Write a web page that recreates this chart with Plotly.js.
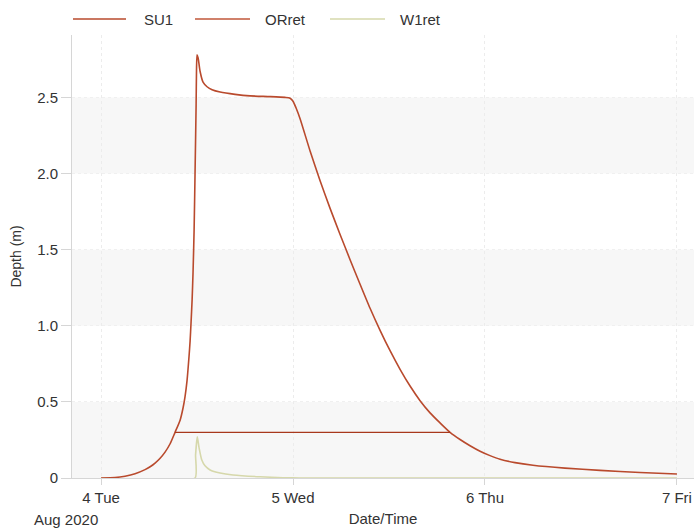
<!DOCTYPE html>
<html>
<head>
<meta charset="utf-8">
<script src="https://cdn.plot.ly/plotly-3.0.1.min.js"></script>
<style>html,body{margin:0;padding:0;background:#fff;}#chart{width:694px;height:529px;}</style>
</head>
<body>
<div id="chart"></div>
<script>
// SU1 depth (m)
const su1Time = [
  "2020-08-04 00:00","2020-08-04 01:45","2020-08-04 03:00","2020-08-04 04:15","2020-08-04 05:30",
  "2020-08-04 06:08","2020-08-04 06:45","2020-08-04 07:23","2020-08-04 08:00","2020-08-04 08:38",
  "2020-08-04 09:15","2020-08-04 09:53","2020-08-04 10:15","2020-08-04 10:30","2020-08-04 10:45",
  "2020-08-04 11:00","2020-08-04 11:08","2020-08-04 11:15","2020-08-04 11:23","2020-08-04 11:30",
  "2020-08-04 11:38","2020-08-04 11:45","2020-08-04 11:53","2020-08-04 11:56","2020-08-04 12:00",
  "2020-08-04 12:08","2020-08-04 12:23","2020-08-04 12:45","2020-08-04 13:15","2020-08-04 13:53",
  "2020-08-04 14:53","2020-08-04 16:45","2020-08-04 18:38","2020-08-04 21:08","2020-08-04 23:00",
  "2020-08-04 23:38","2020-08-05 00:00","2020-08-05 00:23","2020-08-05 00:53","2020-08-05 02:08",
  "2020-08-05 03:23","2020-08-05 04:38","2020-08-05 05:53","2020-08-05 07:08","2020-08-05 08:23",
  "2020-08-05 09:38","2020-08-05 10:53","2020-08-05 12:08","2020-08-05 13:23","2020-08-05 14:38",
  "2020-08-05 15:53","2020-08-05 17:08","2020-08-05 18:23","2020-08-05 19:38","2020-08-05 20:53",
  "2020-08-05 22:08","2020-08-05 23:23","2020-08-06 00:38","2020-08-06 01:53","2020-08-06 03:45",
  "2020-08-06 06:00","2020-08-06 10:00","2020-08-06 14:23","2020-08-06 19:23","2020-08-07 00:00"
];
const su1Depth = [
  0, 0.003, 0.012, 0.028, 0.055,
  0.074, 0.098, 0.13, 0.17, 0.225,
  0.30, 0.38, 0.46, 0.535, 0.64,
  0.80, 0.90, 1.02, 1.17, 1.35,
  1.63, 2.0, 2.45, 2.68, 2.78,
  2.76, 2.67, 2.60, 2.57, 2.55,
  2.535, 2.52, 2.51, 2.505, 2.50,
  2.495, 2.475, 2.43, 2.36, 2.148,
  1.952, 1.771, 1.600, 1.434, 1.273,
  1.115, 0.970, 0.836, 0.714, 0.604,
  0.508, 0.428, 0.362, 0.300, 0.253,
  0.212, 0.176, 0.147, 0.123, 0.101,
  0.084, 0.065, 0.050, 0.036, 0.026
];
// ORret depth (m)
const orTime = ["2020-08-04 09:15","2020-08-05 19:38"];
const orDepth = [0.30, 0.30];
// W1ret depth (m)
const w1Time = [
  "2020-08-04 00:00","2020-08-04 11:45","2020-08-04 11:49","2020-08-04 12:02","2020-08-04 12:15",
  "2020-08-04 12:35","2020-08-04 13:00","2020-08-04 13:38","2020-08-04 14:53","2020-08-04 16:30",
  "2020-08-04 19:53","2020-08-04 22:45","2020-08-05 00:53","2020-08-07 00:00"
];
const w1Depth = [0, 0, 0.15, 0.27, 0.2, 0.12, 0.08, 0.053, 0.033, 0.02, 0.008, 0.002, 0, 0];

const seriesNames = ["SU1","ORret","W1ret"];
const xTickVals = ["2020-08-04","2020-08-05","2020-08-06","2020-08-07"];
const xTickText = ["4 Tue","5 Wed","6 Thu","7 Fri"];
const yTickVals = [0,0.5,1,1.5,2,2.5];
const yTickText = ["0","0.5","1.0","1.5","2.0","2.5"];
const bandRanges = [[0,0.5],[1,1.5],[2,2.5]];

const cSU1 = "#b94a2d", cOR = "#a8381c", cW1 = "#d6d8ab";
const font = "Liberation Sans, Arial, sans-serif";

const traces = [
  {x: su1Time, y: su1Depth, name: seriesNames[0], type: "scatter", mode: "lines",
   line: {color: cSU1, width: 1.6, shape: "spline", smoothing: 0.6}},
  {x: orTime, y: orDepth, name: seriesNames[1], type: "scatter", mode: "lines",
   line: {color: cOR, width: 1.3}},
  {x: w1Time, y: w1Depth, name: seriesNames[2], type: "scatter", mode: "lines",
   line: {color: cW1, width: 1.6, shape: "spline", smoothing: 0.5}}
];
// draw W1ret below others
const ordered = [traces[2], traces[0], traces[1]];

const shapes = bandRanges.map(r => ({
  type: "rect", xref: "paper", yref: "y", x0: 0, x1: 1, y0: r[0], y1: r[1],
  fillcolor: "#f7f7f7", line: {width: 0}, layer: "below"
}));
// manual legend
const legCols = [cSU1, "#c0573a", cW1];
const legX = [[73,126],[195,250],[330,385]];
const legTextX = [142, 263, 398];
const W = 694, H = 529, L = 72, R = 0, T = 35, B = 51;
const pw = W - L - R, ph = H - T - B;
const px = v => (v - L) / pw;
const py = v => 1 + (T - v) / ph;
const annotations = [];
seriesNames.forEach((n, i) => {
  shapes.push({type: "line", xref: "paper", yref: "paper",
    x0: px(legX[i][0]), x1: px(legX[i][1]), y0: py(19), y1: py(19),
    line: {color: legCols[i], width: 1.6}});
  annotations.push({xref: "paper", yref: "paper", x: px(legTextX[i]), y: py(19),
    xanchor: "left", yanchor: "middle", text: n, showarrow: false,
    font: {family: font, size: 15, color: "#333"}});
});
annotations.push({xref: "paper", yref: "paper", x: px(66), y: py(519),
  xanchor: "center", yanchor: "middle", text: "Aug 2020", showarrow: false,
  font: {family: font, size: 15, color: "#333"}});

const layout = {
  width: W, height: H,
  margin: {l: L, r: R, t: T, b: B, pad: 0},
  paper_bgcolor: "#fff", plot_bgcolor: "#fff",
  showlegend: false,
  font: {family: font, size: 15, color: "#333"},
  xaxis: {
    type: "date",
    range: ["2020-08-03 20:22", "2020-08-07 02:08"],
    tickvals: xTickVals, ticktext: xTickText,
    showgrid: true, gridcolor: "#ececec", griddash: "dot", gridwidth: 1,
    showline: true, linecolor: "#d6d6d6", linewidth: 1,
    ticks: "outside", ticklen: 6, tickcolor: "#d6d6d6",
    zeroline: false,
    tickfont: {family: font, size: 15, color: "#333"},
    title: {text: "Date/Time", font: {family: font, size: 15, color: "#333"}, standoff: 8}
  },
  yaxis: {
    range: [0, 2.91],
    tickvals: yTickVals, ticktext: yTickText,
    showgrid: true, gridcolor: "#f0f0f0", griddash: "dot", gridwidth: 1,
    showline: true, linecolor: "#d6d6d6", linewidth: 1,
    ticks: "outside", ticklen: 10, tickcolor: "#d6d6d6",
    zeroline: false,
    tickfont: {family: font, size: 15, color: "#333"},
    title: {text: "Depth (m)", font: {family: font, size: 14, color: "#333"}, standoff: 12}
  },
  shapes: shapes,
  annotations: annotations
};

Plotly.newPlot("chart", ordered, layout, {displayModeBar: false, staticPlot: true});
</script>
</body>
</html>
